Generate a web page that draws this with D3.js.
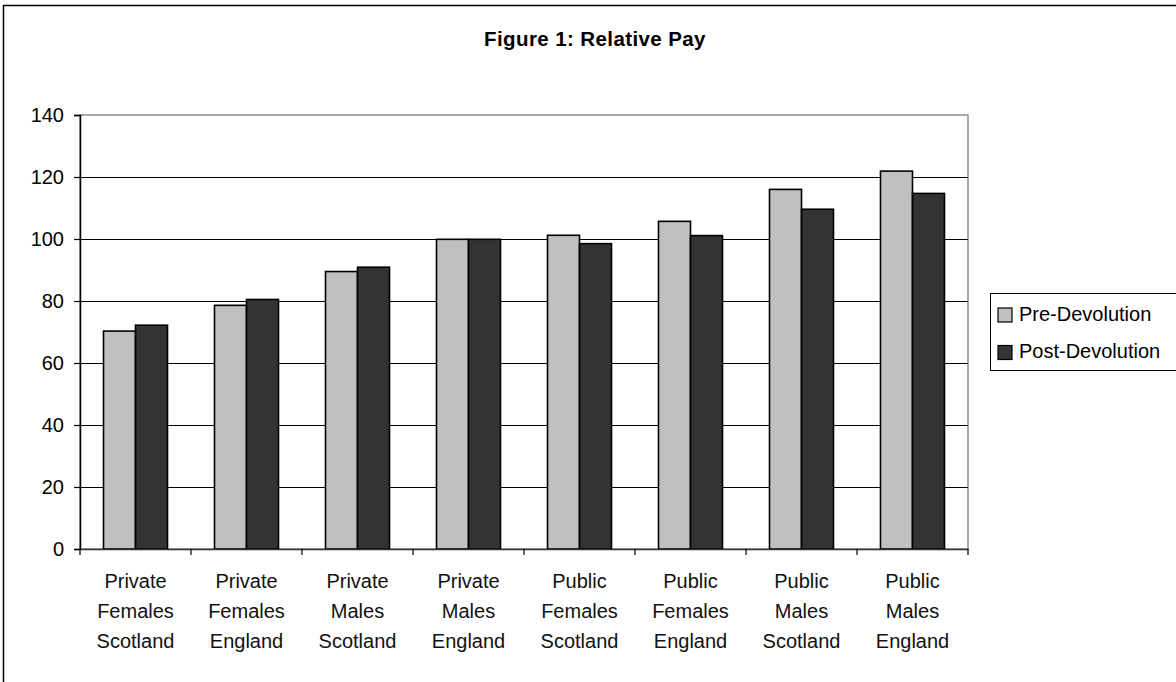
<!DOCTYPE html>
<html>
<head>
<meta charset="utf-8">
<script src="https://cdn.jsdelivr.net/npm/d3@7/dist/d3.min.js"></script>
<style>
html,body{margin:0;padding:0;background:#fff;}
svg{display:block;font-family:Arial,"Liberation Sans",sans-serif;}
</style>
</head>
<body>
<svg id="chart" width="1176" height="682"></svg>
<script>
const title = "Figure 1: Relative Pay";
const categories = [
  ["Private","Females","Scotland"],
  ["Private","Females","England"],
  ["Private","Males","Scotland"],
  ["Private","Males","England"],
  ["Public","Females","Scotland"],
  ["Public","Females","England"],
  ["Public","Males","Scotland"],
  ["Public","Males","England"]
];
const seriesNames = ["Pre-Devolution","Post-Devolution"];
const preDevolution  = [70.3, 78.6, 89.5, 99.9, 101.2, 105.7, 116.0, 121.9];
const postDevolution = [72.2, 80.5, 90.9, 99.9, 98.5, 101.1, 109.6, 114.7];
const yTicks = [0,20,40,60,80,100,120,140];
const colors = ["#C0C0C0","#333333"];

const svg = d3.select("#chart");
const m = {left:80, right:968, top:115, bottom:549};

// outer frame
svg.append("rect").attr("x",3.5).attr("y",5.5).attr("width",1190).attr("height",700)
  .attr("fill","none").attr("stroke","#000").attr("stroke-width",1.5);

// title
svg.append("text").attr("x",595).attr("y",46).attr("text-anchor","middle")
  .attr("font-weight","bold").attr("font-size",20.5).attr("letter-spacing",0.4).text(title);

const keys = categories.map(c=>c.join(" "));
const x = d3.scaleBand().domain(keys).range([m.left,m.right]).paddingInner(0.4234).paddingOuter(0.2117);
const xs = d3.scaleBand().domain(seriesNames).range([0,x.bandwidth()]);
const y = d3.scaleLinear().domain([0,140]).range([m.bottom,m.top]);

// plot area border (gray)
svg.append("rect").attr("x",m.left).attr("y",m.top).attr("width",m.right-m.left).attr("height",m.bottom-m.top)
  .attr("fill","#fff").attr("stroke","#8c8c8c").attr("stroke-width",1.5);

// gridlines
svg.append("g").selectAll("line").data(yTicks.filter(t=>t>0 && t<140)).join("line")
  .attr("x1",m.left).attr("x2",m.right).attr("y1",d=>Math.round(y(d))+0.5).attr("y2",d=>Math.round(y(d))+0.5)
  .attr("stroke","#000").attr("stroke-width",1);

// bars
const data = keys.map((k,i)=>({key:k, vals:[preDevolution[i], postDevolution[i]]}));
const g = svg.append("g").selectAll("g").data(data).join("g").attr("transform",d=>`translate(${x(d.key)},0)`);
g.selectAll("rect").data(d=>d.vals.map((v,j)=>({s:seriesNames[j], v, j}))).join("rect")
  .attr("x",d=>xs(d.s)).attr("width",xs.bandwidth())
  .attr("y",d=>y(d.v)).attr("height",d=>y(0)-y(d.v))
  .attr("fill",d=>colors[d.j]).attr("stroke","#000").attr("stroke-width",1.6);

// y axis
const yAxis = d3.axisLeft(y).tickValues(yTicks).tickSize(6).tickPadding(10).tickFormat(d3.format("d"));
const ya = svg.append("g").attr("transform",`translate(${m.left},0)`).call(yAxis);
ya.select(".domain").attr("stroke","#000").attr("stroke-width",1.5);
ya.selectAll(".tick line").attr("stroke","#000").attr("stroke-width",1.2);
ya.selectAll(".tick text").attr("font-size",20).attr("fill","#000").attr("font-family","Arial,'Liberation Sans',sans-serif");

// x axis
const xAxis = d3.axisBottom(x).tickSize(0).tickFormat(()=>"");
const xa = svg.append("g").attr("transform",`translate(0,${m.bottom})`).call(xAxis);
xa.select(".domain").attr("stroke","#333").attr("stroke-width",1.5);
// category boundary ticks
const bounds = d3.range(keys.length+1).map(i=> i<keys.length ? x(keys[i]) - x.step()*x.paddingInner()/2 : m.right);
xa.selectAll("line.bt").data(bounds).join("line").attr("class","bt")
  .attr("x1",d=>d).attr("x2",d=>d).attr("y1",0).attr("y2",6).attr("stroke","#000").attr("stroke-width",1.2);
// labels
const lab = svg.append("g").selectAll("text").data(categories).join("text")
  .attr("x",(d,i)=>x(keys[i])+x.bandwidth()/2).attr("y",588)
  .attr("text-anchor","middle").attr("font-size",20).attr("fill","#111");
lab.selectAll("tspan").data(d=>d).join("tspan")
  .attr("x",function(){return d3.select(this.parentNode).attr("x");})
  .attr("dy",(d,i)=>i===0?0:30).text(d=>d);

// legend
const lg = svg.append("g");
lg.append("rect").attr("x",990.5).attr("y",293.5).attr("width",190).attr("height",77)
  .attr("fill","#fff").attr("stroke","#000").attr("stroke-width",1);
seriesNames.forEach((s,i)=>{
  const yy = 308 + i*37.5;
  lg.append("rect").attr("x",998).attr("y",yy).attr("width",14).attr("height",14)
    .attr("fill",colors[i]).attr("stroke","#000").attr("stroke-width",1.2);
  lg.append("text").attr("x",1019).attr("y",yy+12.5).attr("font-size",20).attr("fill","#000").text(s);
});
</script>
</body>
</html>
